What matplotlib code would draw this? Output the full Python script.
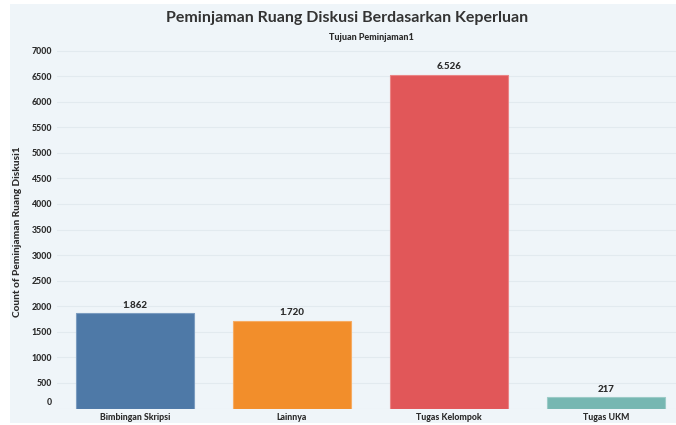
import matplotlib
matplotlib.use('Agg')
import matplotlib.pyplot as plt
import matplotlib.transforms as mtransforms
from matplotlib.patches import Rectangle

plt.rcParams['font.family'] = ['Lato', 'DejaVu Sans']

# data
categories = ['Bimbingan Skripsi', 'Lainnya', 'Tugas Kelompok', 'Tugas UKM']
counts = [1862, 1720, 6526, 217]
value_labels = ['1.862', '1.720', '6.526', '217']
colors = ['#4e79a7', '#f28e2b', '#e15759', '#76b7b2']
edges = ['#7b9cc0', '#f6ac63', '#ea8586', '#9ccbc7']
yticks = list(range(0, 7001, 500))

W, H = 676, 425
fig = plt.figure(figsize=(W / 100, H / 100), dpi=100)
fig.patch.set_facecolor('white')
bg = '#eff5f9'
fig.patches.append(Rectangle((10 / W, 2 / H), 1, (H - 6) / H, transform=fig.transFigure,
                             facecolor=bg, edgecolor='none', zorder=-10))

# plot area (right side runs past the image edge, like the original)
left_px, bottom_px, top_px = 56.5, 408.5, 45.4
unit_px = 157.0
xmax = -0.5 + (W - left_px) / unit_px
ax = fig.add_axes([left_px / W, (H - bottom_px) / H, (W - left_px) / W, (bottom_px - top_px) / H])
ax.set_facecolor('none')

txt = '#2b2b2b'
x = range(len(categories))
ax.bar(x, counts, width=0.75, color=colors, edgecolor=edges, linewidth=0.8, zorder=3)
for i, (v, lab) in enumerate(zip(counts, value_labels)):
    ax.annotate(lab, (i, v), xytext=(0, 2.5), textcoords='offset points',
                ha='center', va='bottom', fontsize=7, fontweight='black', color=txt)

ax.set_xlim(-0.5, xmax)
ax.set_ylim(0, 7100)
ax.set_yticks(yticks)
ax.set_yticklabels([str(t) for t in yticks])
ax.set_xticks(list(x))
ax.set_xticklabels(categories)
ax.tick_params(axis='both', length=0, labelsize=6.3, colors=txt)
ax.tick_params(axis='y', pad=3)
ax.tick_params(axis='x', pad=3)
for lab in ax.get_yticklabels() + ax.get_xticklabels():
    lab.set_fontweight('black')
# lift the 0 label like the original
zero = ax.get_yticklabels()[0]
zero.set_transform(zero.get_transform() + mtransforms.ScaledTranslation(0, 5 / 72, fig.dpi_scale_trans))

ax.grid(axis='y', color='#e2eaef', linewidth=0.8, zorder=0)
for s in ax.spines.values():
    s.set_visible(False)

ax.set_ylabel('Count of Peminjaman Ruang Diskusi1', fontsize=7.3, fontweight='black', color=txt)
ax.yaxis.set_label_coords(22 / W, 1 - 232 / H, transform=fig.transFigure)

fig.text(347 / W, 1 - 18 / H, 'Peminjaman Ruang Diskusi Berdasarkan Keperluan',
         ha='center', va='center', fontsize=11.5, fontweight='bold', color='#333333')
fig.text(371 / W, 1 - 37 / H, 'Tujuan Peminjaman1',
         ha='center', va='center', fontsize=6.5, fontweight='black', color=txt)

fig.savefig('out.png', dpi=100, facecolor='white')
